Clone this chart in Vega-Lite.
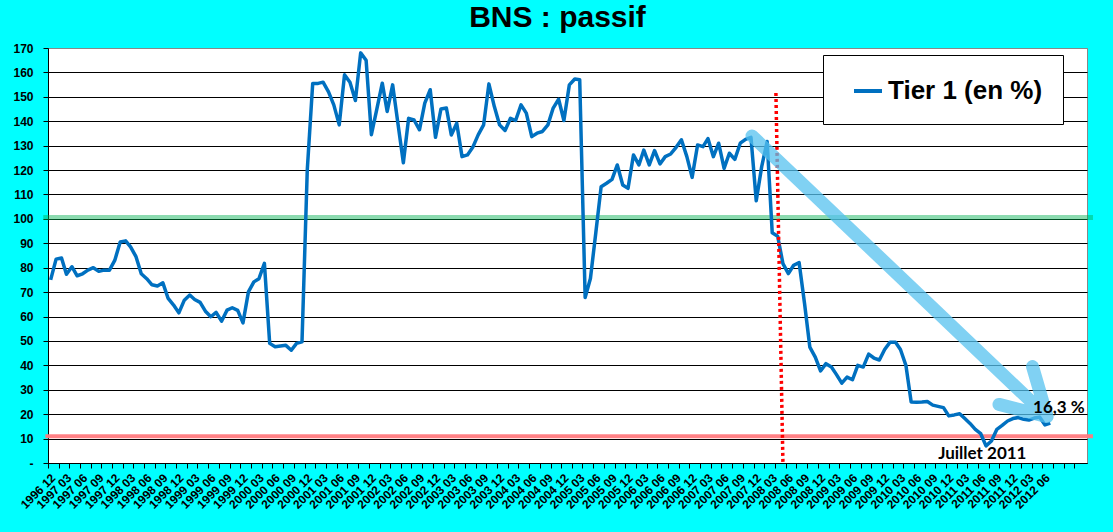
{
  "$schema": "https://vega.github.io/schema/vega-lite/v6.json",
  "width": 1039,
  "height": 415,
  "autosize": {"type": "none"},
  "padding": {"left": 48, "top": 48, "right": 26, "bottom": 69},
  "background": "#00ffff",
  "config": {
    "view": {"fill": "white", "stroke": "#888888", "strokeWidth": 1},
    "font": "Liberation Sans"
  },
  "title": {
    "text": "BNS : passif",
    "font": "Liberation Sans",
    "fontSize": 30,
    "fontWeight": "bold",
    "color": "black",
    "anchor": "middle",
    "frame": "group",
    "offset": 9,
    "dx": -10
  },
  "datasets": {
    "tier1": [
      {"d": "1996-12", "v": 75}, {"d": "1997-01", "v": 83.5}, {"d": "1997-02", "v": 84}, {"d": "1997-03", "v": 77.3},
      {"d": "1997-04", "v": 80.4}, {"d": "1997-05", "v": 76.7}, {"d": "1997-06", "v": 77.5}, {"d": "1997-07", "v": 79},
      {"d": "1997-08", "v": 80}, {"d": "1997-09", "v": 78.5}, {"d": "1997-10", "v": 79}, {"d": "1997-11", "v": 79},
      {"d": "1997-12", "v": 83}, {"d": "1998-01", "v": 90.5}, {"d": "1998-02", "v": 91}, {"d": "1998-03", "v": 88.5},
      {"d": "1998-04", "v": 84.5}, {"d": "1998-05", "v": 77.5}, {"d": "1998-06", "v": 75.5}, {"d": "1998-07", "v": 73},
      {"d": "1998-08", "v": 72.5}, {"d": "1998-09", "v": 73.8}, {"d": "1998-10", "v": 67.4}, {"d": "1998-11", "v": 64.7},
      {"d": "1998-12", "v": 61.5}, {"d": "1999-01", "v": 66.7}, {"d": "1999-02", "v": 68.8}, {"d": "1999-03", "v": 67},
      {"d": "1999-04", "v": 65.8}, {"d": "1999-05", "v": 62.2}, {"d": "1999-06", "v": 59.9}, {"d": "1999-07", "v": 61.7},
      {"d": "1999-08", "v": 58.1}, {"d": "1999-09", "v": 62.6}, {"d": "1999-10", "v": 63.6}, {"d": "1999-11", "v": 62.5},
      {"d": "1999-12", "v": 57.4}, {"d": "2000-01", "v": 70.1}, {"d": "2000-02", "v": 74.2}, {"d": "2000-03", "v": 75.5},
      {"d": "2000-04", "v": 81.8}, {"d": "2000-05", "v": 49}, {"d": "2000-06", "v": 47.6}, {"d": "2000-07", "v": 47.9},
      {"d": "2000-08", "v": 48.2}, {"d": "2000-09", "v": 46.2}, {"d": "2000-10", "v": 49}, {"d": "2000-11", "v": 49.6},
      {"d": "2000-12", "v": 120}, {"d": "2001-01", "v": 155.5}, {"d": "2001-02", "v": 155.5}, {"d": "2001-03", "v": 156},
      {"d": "2001-04", "v": 152}, {"d": "2001-05", "v": 146.7}, {"d": "2001-06", "v": 138.5}, {"d": "2001-07", "v": 159},
      {"d": "2001-08", "v": 156}, {"d": "2001-09", "v": 148.5}, {"d": "2001-10", "v": 168}, {"d": "2001-11", "v": 165},
      {"d": "2001-12", "v": 134.5}, {"d": "2002-01", "v": 145}, {"d": "2002-02", "v": 155.6}, {"d": "2002-03", "v": 144},
      {"d": "2002-04", "v": 154.9}, {"d": "2002-05", "v": 139.2}, {"d": "2002-06", "v": 123}, {"d": "2002-07", "v": 141.2},
      {"d": "2002-08", "v": 140.5}, {"d": "2002-09", "v": 136.5}, {"d": "2002-10", "v": 147.4}, {"d": "2002-11", "v": 152.9},
      {"d": "2002-12", "v": 133.4}, {"d": "2003-01", "v": 145}, {"d": "2003-02", "v": 145.4}, {"d": "2003-03", "v": 134.4},
      {"d": "2003-04", "v": 139.2}, {"d": "2003-05", "v": 125.5}, {"d": "2003-06", "v": 126.2}, {"d": "2003-07", "v": 129.3},
      {"d": "2003-08", "v": 134.4}, {"d": "2003-09", "v": 138.5}, {"d": "2003-10", "v": 155.3}, {"d": "2003-11", "v": 146},
      {"d": "2003-12", "v": 138.5}, {"d": "2004-01", "v": 136.2}, {"d": "2004-02", "v": 141.2}, {"d": "2004-03", "v": 140.3},
      {"d": "2004-04", "v": 146.7}, {"d": "2004-05", "v": 143.3}, {"d": "2004-06", "v": 133.7}, {"d": "2004-07", "v": 135.1},
      {"d": "2004-08", "v": 135.8}, {"d": "2004-09", "v": 138.5}, {"d": "2004-10", "v": 145.4}, {"d": "2004-11", "v": 149},
      {"d": "2004-12", "v": 140.3}, {"d": "2005-01", "v": 154.9}, {"d": "2005-02", "v": 157.3}, {"d": "2005-03", "v": 157},
      {"d": "2005-04", "v": 67.8}, {"d": "2005-05", "v": 75.6}, {"d": "2005-06", "v": 94.5}, {"d": "2005-07", "v": 113.2},
      {"d": "2005-08", "v": 114.6}, {"d": "2005-09", "v": 116.2}, {"d": "2005-10", "v": 122.1}, {"d": "2005-11", "v": 113.9},
      {"d": "2005-12", "v": 112.5}, {"d": "2006-01", "v": 126.2}, {"d": "2006-02", "v": 122.1}, {"d": "2006-03", "v": 128.2},
      {"d": "2006-04", "v": 122.1}, {"d": "2006-05", "v": 128}, {"d": "2006-06", "v": 122.5}, {"d": "2006-07", "v": 125.5},
      {"d": "2006-08", "v": 126.6}, {"d": "2006-09", "v": 129.3}, {"d": "2006-10", "v": 132.4}, {"d": "2006-11", "v": 125.5},
      {"d": "2006-12", "v": 117}, {"d": "2007-01", "v": 130.3}, {"d": "2007-02", "v": 129.6}, {"d": "2007-03", "v": 132.9},
      {"d": "2007-04", "v": 125.5}, {"d": "2007-05", "v": 131}, {"d": "2007-06", "v": 120.7}, {"d": "2007-07", "v": 126.9},
      {"d": "2007-08", "v": 124.4}, {"d": "2007-09", "v": 131}, {"d": "2007-10", "v": 132.6}, {"d": "2007-11", "v": 133.4},
      {"d": "2007-12", "v": 107.4}, {"d": "2008-01", "v": 121.4}, {"d": "2008-02", "v": 131.7}, {"d": "2008-03", "v": 94.3},
      {"d": "2008-04", "v": 92.9}, {"d": "2008-05", "v": 81.7}, {"d": "2008-06", "v": 77.6}, {"d": "2008-07", "v": 81},
      {"d": "2008-08", "v": 82.1}, {"d": "2008-09", "v": 65.3}, {"d": "2008-10", "v": 47.5}, {"d": "2008-11", "v": 43.4},
      {"d": "2008-12", "v": 37.7}, {"d": "2009-01", "v": 40.7}, {"d": "2009-02", "v": 39.3}, {"d": "2009-03", "v": 36.3},
      {"d": "2009-04", "v": 32.7}, {"d": "2009-05", "v": 35.2}, {"d": "2009-06", "v": 34.1}, {"d": "2009-07", "v": 40},
      {"d": "2009-08", "v": 39.3}, {"d": "2009-09", "v": 44.6}, {"d": "2009-10", "v": 43}, {"d": "2009-11", "v": 42.2},
      {"d": "2009-12", "v": 46.5}, {"d": "2010-01", "v": 49.5}, {"d": "2010-02", "v": 49.5}, {"d": "2010-03", "v": 46.5},
      {"d": "2010-04", "v": 40}, {"d": "2010-05", "v": 25}, {"d": "2010-06", "v": 24.9}, {"d": "2010-07", "v": 25},
      {"d": "2010-08", "v": 25.2}, {"d": "2010-09", "v": 23.7}, {"d": "2010-10", "v": 23.2}, {"d": "2010-11", "v": 22.7},
      {"d": "2010-12", "v": 19.3}, {"d": "2011-01", "v": 19.7}, {"d": "2011-02", "v": 20.2}, {"d": "2011-03", "v": 18.3},
      {"d": "2011-04", "v": 16.2}, {"d": "2011-05", "v": 13.8}, {"d": "2011-06", "v": 12}, {"d": "2011-07", "v": 7},
      {"d": "2011-08", "v": 9}, {"d": "2011-09", "v": 13.8}, {"d": "2011-10", "v": 15.4}, {"d": "2011-11", "v": 17.2},
      {"d": "2011-12", "v": 18.2}, {"d": "2012-01", "v": 18.6}, {"d": "2012-02", "v": 17.9}, {"d": "2012-03", "v": 17.6},
      {"d": "2012-04", "v": 18.4}, {"d": "2012-05", "v": 18.8}, {"d": "2012-06", "v": 15.6}, {"d": "2012-07", "v": 16.3}
    ],
    "arrow": [
      {"d": "2007-11-07", "v": 134, "k": 0},
      {"d": "2012-06-13", "v": 19, "k": 1},
      {"d": "2012-03-22", "v": 39.5, "k": 2},
      {"d": "2012-06-13", "v": 19, "k": 3},
      {"d": "2011-09-13", "v": 24, "k": 4}
    ],
    "marker": [{"d1": "2008-03-22", "v1": 151.6, "d2": "2008-05-01", "v2": 0}],
    "notes": [
      {"d": "2012-08-19", "v": 22.7, "t": "16,3 %"},
      {"d": "2011-06-10", "v": 3.7, "t": "Juillet 2011"}
    ]
  },
  "layer": [
    {
      "data": {"values": [{}]},
      "mark": {"type": "rule", "color": "#00b050", "opacity": 0.45, "strokeWidth": 5},
      "encoding": {
        "y": {
          "datum": 100.6,
          "type": "quantitative",
          "scale": {"domain": [0, 170], "nice": false, "zero": true},
          "axis": {
            "title": null,
            "values": [0, 10, 20, 30, 40, 50, 60, 70, 80, 90, 100, 110, 120, 130, 140, 150, 160, 170],
            "tickCount": 30,
            "labelOverlap": false,
            "labelExpr": "datum.value == 0 ? '-' : datum.label",
            "labelFont": "Liberation Sans",
            "labelFontWeight": "bold",
            "labelFontSize": 12,
            "labelColor": "black",
            "labelPadding": 10,
            "tickSize": 5,
            "tickColor": "black",
            "domainColor": "black",
            "grid": true,
            "gridColor": {"condition": {"test": "datum.value == 170", "value": "#888888"}, "value": "black"},
            "gridOpacity": 1,
            "gridWidth": 1
          }
        },
        "x": {
          "datum": {"year": 1996, "month": 10, "date": 20, "utc": true},
          "type": "temporal",
          "scale": {
            "type": "utc",
            "domain": [
              {"year": 1996, "month": 11, "date": 16, "utc": true},
              {"year": 2013, "month": 1, "date": 26, "utc": true}
            ],
            "nice": false
          },
          "axis": {
            "title": null,
            "tickCount": {"interval": "month", "step": 1},
            "labelExpr": "utcmonth(datum.value) % 3 == 2 && (utcyear(datum.value) < 2012 || utcmonth(datum.value) <= 5) ? utcFormat(datum.value, '%Y %m') : ''",
            "labelAngle": -45,
            "labelFont": "Liberation Sans",
            "labelFontWeight": "bold",
            "labelFontSize": 12,
            "labelColor": "black",
            "labelOverlap": false,
            "labelFlush": false,
            "labelBound": false,
            "labelPadding": 4,
            "tickOffset": -2.67,
            "labelOffset": 1.5,
            "tickSize": 5,
            "tickColor": "black",
            "tickOpacity": {"condition": {"test": "utcmonth(datum.value) % 2 == 1", "value": 1}, "value": 0},
            "domainColor": "black",
            "grid": false
          }
        },
        "x2": {"datum": {"year": 2013, "month": 3, "date": 1, "utc": true}}
      }
    },
    {
      "data": {"values": [{}]},
      "mark": {"type": "rule", "color": "#ff7a7e", "opacity": 0.95, "strokeWidth": 4},
      "encoding": {
        "y": {"datum": 11, "type": "quantitative"},
        "x": {"datum": {"year": 1996, "month": 11, "date": 1, "utc": true}, "type": "temporal"},
        "x2": {"datum": {"year": 2013, "month": 3, "date": 1, "utc": true}}
      }
    },
    {
      "data": {"name": "tier1"},
      "mark": {"type": "line", "strokeWidth": 3.5, "strokeJoin": "round"},
      "encoding": {
        "x": {"field": "d", "type": "temporal", "title": null},
        "y": {"field": "v", "type": "quantitative", "title": null},
        "color": {
          "datum": "Tier 1 (en %)",
          "scale": {"range": ["#0070c0"]},
          "legend": {
            "title": null,
            "orient": "none",
            "legendX": 775,
            "legendY": 7,
            "fillColor": "white",
            "strokeColor": "black",
            "padding": 20,
            "symbolType": "stroke",
            "symbolSize": 784,
            "symbolStrokeWidth": 4,
            "symbolOffset": 9,
            "labelOffset": 4,
            "labelFont": "Liberation Sans",
            "labelFontSize": 26,
            "labelFontWeight": "bold",
            "labelColor": "black",
            "labelLimit": 400
          }
        }
      }
    },
    {
      "data": {"name": "marker"},
      "mark": {"type": "rule", "color": "#ff0000", "strokeWidth": 3.5, "strokeDash": [3, 3]},
      "encoding": {
        "x": {"field": "d1", "type": "temporal", "title": null},
        "x2": {"field": "d2"},
        "y": {"field": "v1", "type": "quantitative", "title": null},
        "y2": {"field": "v2"}
      }
    },
    {
      "data": {"name": "arrow"},
      "mark": {"type": "line", "color": "#56c1ef", "opacity": 0.75, "strokeWidth": 13, "strokeCap": "round", "strokeJoin": "round"},
      "encoding": {
        "x": {"field": "d", "type": "temporal", "title": null},
        "y": {"field": "v", "type": "quantitative", "title": null},
        "order": {"field": "k", "type": "quantitative"}
      }
    },
    {
      "data": {"name": "notes"},
      "mark": {"type": "text", "font": "Lato", "fontWeight": "bold", "fontSize": 17, "color": "black", "align": "center", "baseline": "middle"},
      "encoding": {
        "x": {"field": "d", "type": "temporal", "title": null},
        "y": {"field": "v", "type": "quantitative", "title": null},
        "text": {"field": "t"}
      }
    }
  ]
}
